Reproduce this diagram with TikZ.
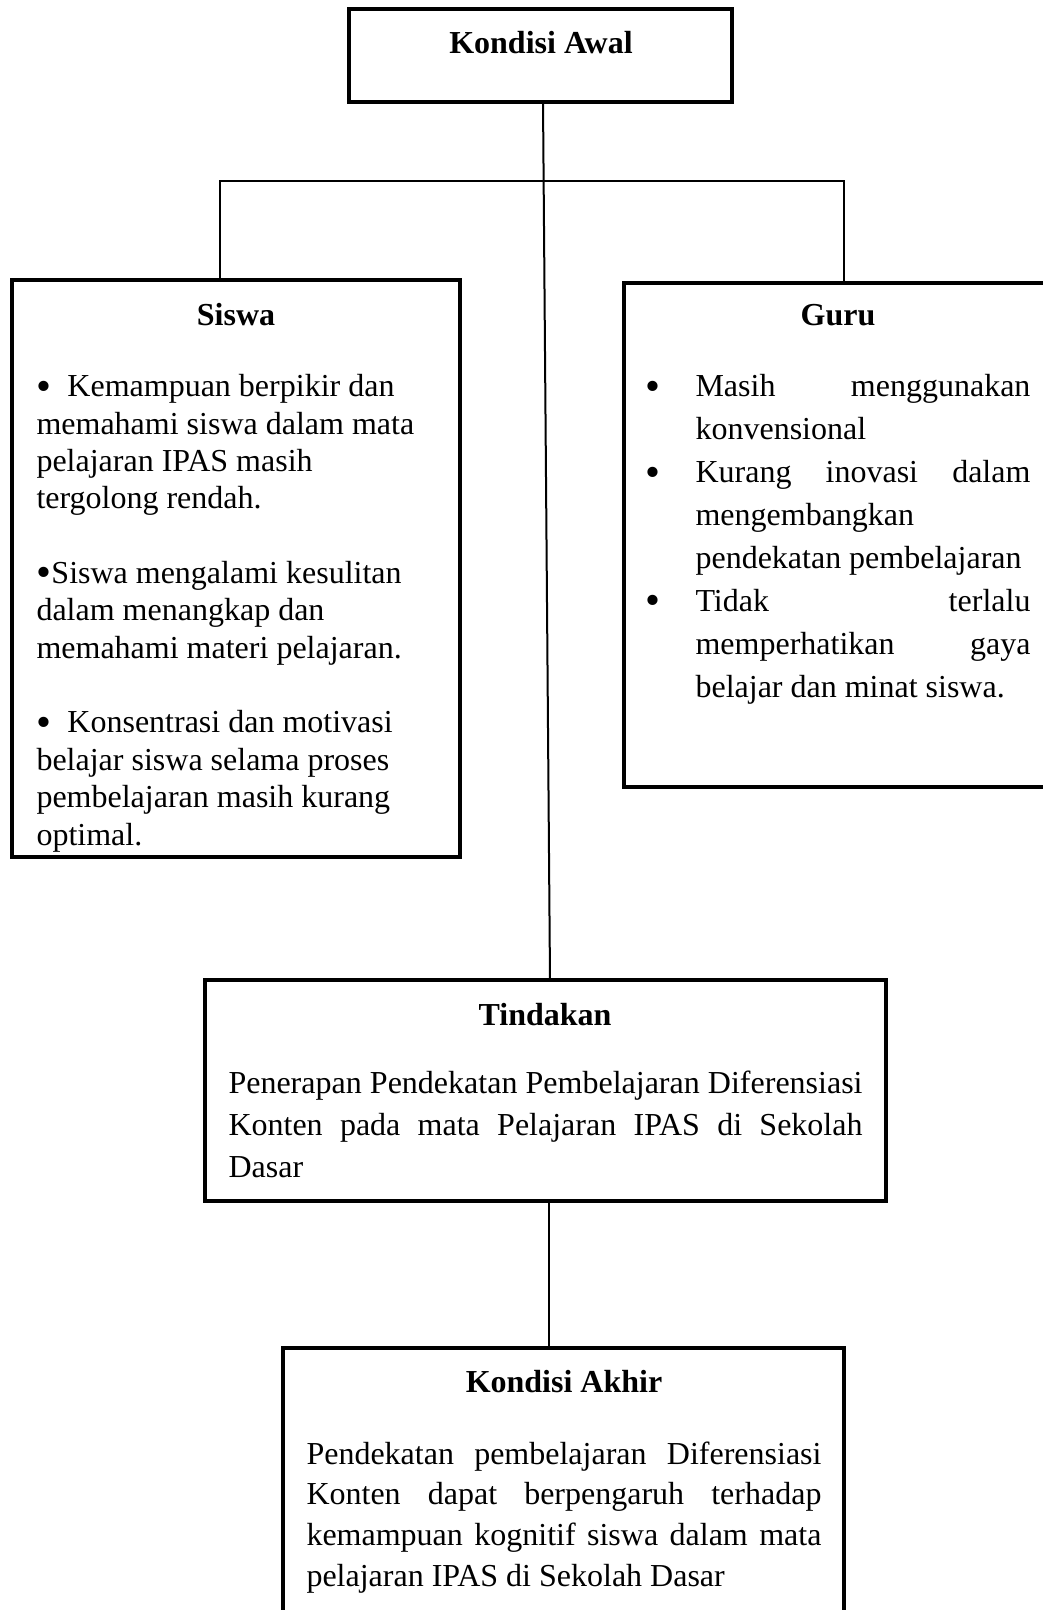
\documentclass[tikz,border=0pt]{standalone}
\usepackage{fontspec}
\setmainfont{Liberation Serif}
\usetikzlibrary{calc}
\newcommand{\bigbul}{\raisebox{-1.2pt}{\fontsize{16}{16}\selectfont\textbullet}}
\tikzset{
  box/.style={draw, line width=1.7pt, inner sep=0pt, outer sep=0pt, anchor=north west},
  conn/.style={draw, line width=0.75pt},
  ttl/.style={inner sep=0pt, anchor=base, font=\fontsize{12}{14}\selectfont\bfseries},
  body/.style={inner sep=0pt, anchor=base west},
}
\begin{document}
\begin{tikzpicture}[x=0.375pt,y=-0.375pt]
\useasboundingbox (0,0) rectangle (1043,1610);
\clip (0,0) rectangle (1043,1610);

% boxes
\node[box, minimum width=143.625pt, minimum height=34.875pt] (awal) at (349,9) {};
\node[box, minimum width=168pt, minimum height=216.375pt] (siswa) at (12,280) {};
\node[box, minimum width=165pt, minimum height=189pt] (guru) at (624,283) {};
\node[box, minimum width=255.375pt, minimum height=82.875pt] (tind) at (205,980) {};
\node[box, minimum width=210.375pt, minimum height=116.25pt] (akhir) at (283,1348) {};

% connectors
\draw[conn] ($(awal.south)+(2.5,0)$) -- ($(tind.north)+(4.5,0)$);
\draw[conn] ($(siswa.north)+(-16,0)$) -- ++(0,-99) -| (guru.north);
\draw[conn] ($(tind.south)+(3.5,0)$) -- ($(akhir.north)+(-14.5,0)$);

% titles
\node[ttl] (awalT) at (541,54) {Kondisi Awal};
\node[ttl] (siswaT) at (236,326) {Siswa};
\node[ttl] (guruT) at (838,326) {Guru};
\node[ttl] (tindT) at (545,1025) {Tindakan};
\node[ttl] (akhirT) at (564,1392) {Kondisi Akhir};

% bodies
\node[body] (siswaB) at (36,397) {\parbox[t]{160pt}{\fontsize{12}{14}\selectfont\leavevmode
\bigbul\hspace{6pt}Kemampuan berpikir dan\\
memahami siswa dalam mata\\
pelajaran IPAS masih\\
tergolong rendah.\\[14pt]
\bigbul Siswa mengalami kesulitan\\
dalam menangkap dan\\
memahami materi pelajaran.\\[14pt]
\bigbul\hspace{6pt}Konsentrasi dan motivasi\\
belajar siswa selama proses\\
pembelajaran masih kurang\\
optimal.}};

\node[body] (guruB) at (695,397) {\parbox[t]{125.6pt}{\fontsize{12}{16.1}\selectfont\leavevmode
\llap{\bigbul\hspace{13pt}}\makebox[\linewidth][s]{Masih menggunakan}\\
konvensional\\
\llap{\bigbul\hspace{13pt}}\makebox[\linewidth][s]{Kurang inovasi dalam}\\
mengembangkan\\
pendekatan pembelajaran\\
\llap{\bigbul\hspace{13pt}}\makebox[\linewidth][s]{Tidak terlalu}\\
\makebox[\linewidth][s]{memperhatikan gaya}\\
belajar dan minat siswa.}};

\node[body] (tindB) at (228,1093) {\parbox[t]{237.75pt}{\fontsize{12}{15.75}\selectfont\leavevmode
\makebox[\linewidth][s]{Penerapan Pendekatan Pembelajaran Diferensiasi}\\
\makebox[\linewidth][s]{Konten pada mata Pelajaran IPAS di Sekolah}\\
Dasar}};

\node[body] (akhirB) at (306,1464) {\parbox[t]{193.1pt}{\fontsize{12}{15.25}\selectfont\leavevmode
\makebox[\linewidth][s]{Pendekatan pembelajaran Diferensiasi}\\
\makebox[\linewidth][s]{Konten dapat berpengaruh terhadap}\\
\makebox[\linewidth][s]{kemampuan kognitif siswa dalam mata}\\
pelajaran IPAS di Sekolah Dasar}};
\end{tikzpicture}
\end{document}
